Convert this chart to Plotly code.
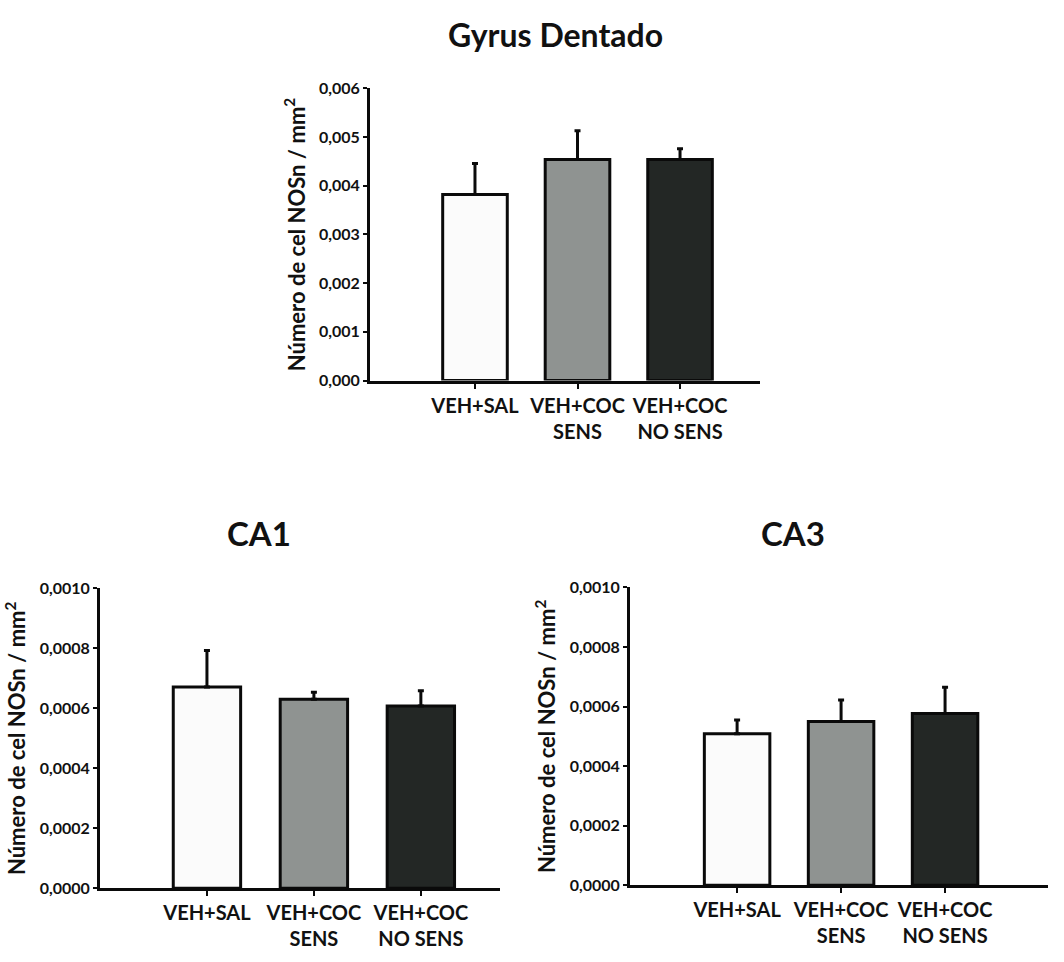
import plotly.graph_objects as go

W, H = 1064, 962

categories = ["VEH+SAL", "VEH+COC<br>SENS", "VEH+COC<br>NO SENS"]
bar_colors = ["#fbfbfb", "#8f9391", "#232725"]

gd_values = [0.00382, 0.00454, 0.00454]
gd_errors = [0.00064, 0.00059, 0.00022]

ca1_values = [0.000671, 0.000630, 0.000608]
ca1_errors = [0.000122, 0.000024, 0.000051]

ca3_values = [0.000509, 0.000550, 0.000577]
ca3_errors = [0.000046, 0.000072, 0.000088]

panel_titles = ["Gyrus Dentado", "CA1", "CA3"]
y_title = "Número de cel NOSn / mm<sup>2</sup>"

FONT = "Lato"
INK = "#111111"

def px_x(a, b):
    return [a / W, b / W]

def px_y(top, bottom):
    return [1 - bottom / H, 1 - top / H]

panels = [
    dict(vals=gd_values, errs=gd_errors, xd=px_x(370, 760), yd=px_y(80, 378),
         xr=[-1.024, 2.78], yr=[0, 0.006], dt=0.001, fmt=".3f"),
    dict(vals=ca1_values, errs=ca1_errors, xd=px_x(100, 500), yd=px_y(590, 896),
         xr=[-1.0, 2.74], yr=[0, 0.001], dt=0.0002, fmt=".4f"),
    dict(vals=ca3_values, errs=ca3_errors, xd=px_x(630, 1048), yd=px_y(589, 893),
         xr=[-1.03, 2.99], yr=[0, 0.001], dt=0.0002, fmt=".4f"),
]

fig = go.Figure()
layout = dict(
    width=W, height=H,
    margin=dict(l=0, r=0, t=0, b=0),
    paper_bgcolor="white", plot_bgcolor="white",
    separators=",.",
    showlegend=False,
    font=dict(family=FONT, color=INK),
)

xpos = list(range(len(categories)))
for i, p in enumerate(panels):
    sfx = "" if i == 0 else str(i + 1)
    fig.add_trace(go.Bar(
        x=xpos, y=p["vals"], width=0.63,
        marker=dict(color=bar_colors, line=dict(color="#0a0a0a", width=3)),
        error_y=dict(type="data", array=p["errs"], arrayminus=[0] * 3,
                     symmetric=False, color="#0a0a0a", thickness=3, width=3),
        xaxis="x" + sfx, yaxis="y" + sfx, hoverinfo="skip",
    ))
    layout["xaxis" + sfx] = dict(
        domain=p["xd"], range=p["xr"], anchor="y" + sfx,
        tickvals=xpos, ticktext=categories,
        showline=True, linewidth=3, linecolor="#0a0a0a",
        ticks="outside", ticklen=5, tickwidth=2, tickcolor="#0a0a0a",
        showgrid=False, zeroline=False, fixedrange=True,
        tickfont=dict(family=FONT, size=20, weight="bold", color=INK),
    )
    layout["yaxis" + sfx] = dict(
        domain=p["yd"], range=p["yr"], anchor="x" + sfx,
        dtick=p["dt"], tick0=0, tickformat=p["fmt"],
        showline=True, linewidth=3, linecolor="#0a0a0a",
        ticks="outside", ticklen=4, tickwidth=2, tickcolor="#0a0a0a",
        showgrid=False, zeroline=False, fixedrange=True,
        tickfont=dict(family=FONT, size=16, weight="bold", color=INK),
        title=dict(text=y_title, font=dict(family=FONT, size=22, weight="bold", color=INK),
                   standoff=8),
    )

title_font = lambda s: dict(family=FONT, size=s, weight="bold", color=INK)
layout["annotations"] = [
    dict(text=panel_titles[0], x=555 / W, y=1 - 25 / H, xref="paper", yref="paper",
         xanchor="center", yanchor="middle", showarrow=False, font=title_font(32)),
    dict(text=panel_titles[1], x=259 / W, y=1 - 534 / H, xref="paper", yref="paper",
         xanchor="center", yanchor="middle", showarrow=False, font=title_font(33)),
    dict(text=panel_titles[2], x=793 / W, y=1 - 534 / H, xref="paper", yref="paper",
         xanchor="center", yanchor="middle", showarrow=False, font=title_font(33)),
]

fig.update_layout(**layout)
fig.write_html("out.html",
               config={"displayModeBar": False},
               post_script="document.body.style.margin='0';document.body.style.overflow='hidden';")
